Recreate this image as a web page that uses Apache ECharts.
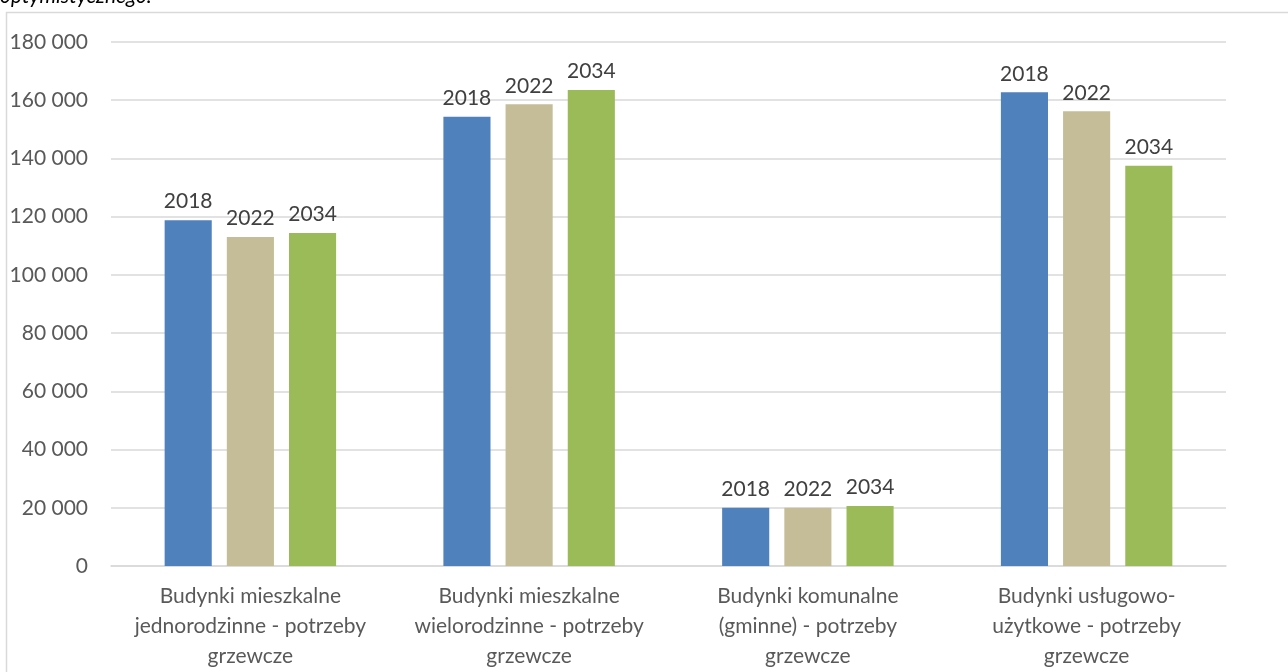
<!DOCTYPE html>
<html>
<head>
<meta charset="utf-8">
<script src="https://cdn.jsdelivr.net/npm/echarts@6/dist/echarts.min.js"></script>
<style>
  html, body { margin: 0; padding: 0; background: #fff; }
  #chart { width: 1288px; height: 672px; }
</style>
</head>
<body>
<div id="chart"></div>
<script>
// kategorie (osie X)
const categories = [
  'Budynki mieszkalne\njednorodzinne - potrzeby\ngrzewcze',
  'Budynki mieszkalne\nwielorodzinne - potrzeby\ngrzewcze',
  'Budynki komunalne\n(gminne) - potrzeby\ngrzewcze',
  'Budynki usługowo-\nużytkowe - potrzeby\ngrzewcze'
]
// lata (serie)
const years = ['2018', '2022', '2034']
const values2018 = [118800, 154300, 20000, 162700]
const values2022 = [113000, 158600, 20000, 156200]
const values2034 = [114400, 163500, 20600, 137500]
const colors = ['#4f81bd', '#c4bd97', '#9bbb59']

const font = 'Lato, "Open Sans", sans-serif'

function fmt (v) {
  return String(v).replace(/\B(?=(\d{3})+(?!\d))/g, ' ')
}

function makeSeries (name, data, color) {
  return {
    name: name,
    type: 'bar',
    data: data,
    itemStyle: { color: color },
    barWidth: '16.9%',
    barGap: '32%',
    label: {
      show: true,
      position: 'top',
      distance: 8,
      formatter: name,
      color: '#404040',
      fontSize: 21,
      fontFamily: font
    }
  }
}

const myChart = echarts.init(document.getElementById('chart'))
const option = {
  animation: false,
  graphic: [
    {
      type: 'rect',
      shape: { x: 6.5, y: 12.5, width: 1290, height: 700 },
      style: { fill: 'none', stroke: '#d9d9d9', lineWidth: 1.5 },
      silent: true
    },
    {
      type: 'text',
      left: 0,
      top: -14,
      style: {
        text: 'optymistycznego.',
        font: 'italic 21px ' + font,
        fill: '#000'
      }
    }
  ],
  grid: {
    left: 111,
    right: 62,
    top: 42,
    bottom: 106
  },
  xAxis: {
    type: 'category',
    data: categories,
    axisLine: { lineStyle: { color: '#d9d9d9', width: 1.5 } },
    axisTick: { show: false },
    axisLabel: {
      color: '#595959',
      fontSize: 21,
      fontFamily: font,
      lineHeight: 30,
      margin: 15,
      interval: 0
    }
  },
  yAxis: {
    type: 'value',
    min: 0,
    max: 180000,
    interval: 20000,
    axisLine: { show: false },
    axisTick: { show: false },
    splitLine: { lineStyle: { color: '#d9d9d9', width: 1.5 } },
    axisLabel: {
      color: '#595959',
      fontSize: 21,
      fontFamily: font,
      margin: 23,
      formatter: fmt
    }
  },
  series: [
    makeSeries(years[0], values2018, colors[0]),
    makeSeries(years[1], values2022, colors[1]),
    makeSeries(years[2], values2034, colors[2])
  ]
}
myChart.setOption(option)
</script>
</body>
</html>
